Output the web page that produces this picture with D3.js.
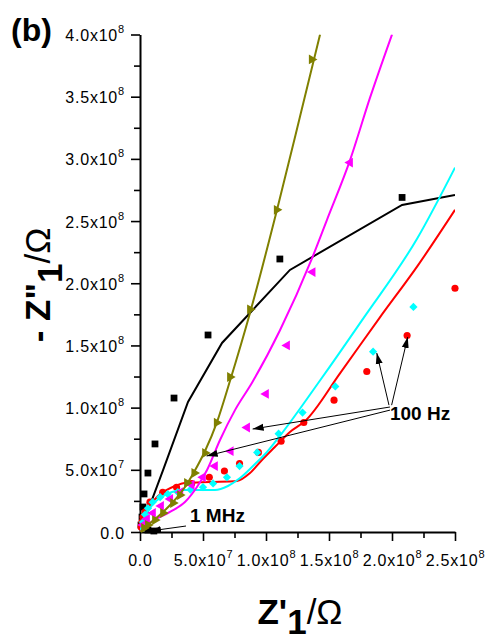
<!DOCTYPE html>
<html>
<head>
<meta charset="utf-8">
<script src="https://cdn.jsdelivr.net/npm/d3@7"></script>
<style>
body{margin:0;background:#fff}
svg{display:block;font-family:Arial,"Liberation Sans",sans-serif}
</style>
</head>
<body>
<svg id="chart" width="489" height="641"></svg>
<script>
// axis ticks and labels (mantissa, exponent)
const xTicks = [0, 5e7, 1e8, 1.5e8, 2e8, 2.5e8];
const xMinor = [2.5e7, 7.5e7, 1.25e8, 1.75e8, 2.25e8];
const xTickLabels = [['0.0',''],['5.0x10','7'],['1.0x10','8'],['1.5x10','8'],['2.0x10','8'],['2.5x10','8']];
const yTicks = [0, 5e7, 1e8, 1.5e8, 2e8, 2.5e8, 3e8, 3.5e8, 4e8];
const yMinor = [2.5e7, 7.5e7, 1.25e8, 1.75e8, 2.25e8, 2.75e8, 3.25e8, 3.75e8];
const yTickLabels = [['0.0',''],['5.0x10','7'],['1.0x10','8'],['1.5x10','8'],['2.0x10','8'],['2.5x10','8'],['3.0x10','8'],['3.5x10','8'],['4.0x10','8']];

// measured points [Z', -Z'']
const blackPts = [[2.08e8,2.69e8],[1.11e8,2.195e8],[5.4e7,1.584e8],[2.7e7,1.077e8],[1.19e7,7.08e7],[6.3e6,4.74e7],[3.2e6,3.06e7],[2.4e6,2.01e7],[1.6e6,1.2e7],[8e5,5.6e6],[6.3e6,1.6e6],[1.1e7,8e5]];
const redPts = [[2.50e8,1.96e8],[2.12e8,1.58e8],[1.80e8,1.29e8],[1.54e8,1.06e8],[1.30e8,8.8e7],[1.12e8,7.3e7],[9.4e7,6.4e7],[7.9e7,5.5e7],[6.7e7,4.9e7],[5.5e7,4.4e7],[4.1e7,3.9e7],[2.9e7,3.6e7],[1.8e7,3.2e7],[7.9e6,2.4e7],[4e6,1.6e7],[2.4e6,1.2e7],[1.6e6,8e6],[8e5,4e6]];
const cyanPts = [[2.17e8,1.81e8],[1.85e8,1.45e8],[1.55e8,1.17e8],[1.29e8,9.6e7],[1.10e8,7.9e7],[9.3e7,6.4e7],[7.9e7,5.3e7],[6.9e7,4.4e7],[5.8e7,3.9e7],[5.0e7,3.6e7],[4.0e7,3.4e7],[3.0e7,3.2e7],[2.2e7,3.05e7],[1.6e7,2.8e7],[1.0e7,2.4e7],[6.3e6,1.9e7],[4e6,1.4e7],[2.4e6,8e6]];
const magentaPts = [[1.667e8,2.97e8],[1.37e8,2.09e8],[1.167e8,1.50e8],[1.0e8,1.11e8],[8.5e7,8.4e7],[7.2e7,6.5e7],[5.95e7,5.3e7],[5.0e7,4.4e7],[4.1e7,3.8e7],[3.2e7,3.2e7],[2.4e7,2.65e7],[1.67e7,2.1e7],[1.03e7,1.53e7],[5.6e6,1.05e7],[2.4e6,5.6e6]];
const olivePts = [[1.363e8,3.80e8],[1.085e8,2.59e8],[8.73e7,1.79e8],[7.14e7,1.246e8],[6.09e7,8.79e7],[5.16e7,6.35e7],[4.31e7,4.74e7],[3.73e7,3.94e7],[3.17e7,2.97e7],[2.62e7,2.33e7],[1.83e7,1.53e7],[1.19e7,9.6e6],[6.3e6,5.6e6],[3.2e6,3.2e6]];

// fitted curves
const blackFit = [[0,0],[1.83e7,4.98e7],[3.81e7,1.045e8],[6.51e7,1.52e8],[1.19e8,2.107e8],[2.08e8,2.63e8],[2.5e8,2.71e8]];
const redFit = [[0,0],[2.4e6,8.0e6],[5.6e6,1.61e7],[9.5e6,2.33e7],[1.43e7,2.89e7],[1.98e7,3.30e7],[2.78e7,3.70e7],[3.57e7,3.94e7],[5.56e7,4.02e7],[7.7e7,4.1e7],[8.73e7,4.74e7],[9.68e7,5.79e7],[1.07e8,6.83e7],[1.19e8,8.04e7],[1.31e8,8.92e7],[1.59e8,1.28e8],[1.90e8,1.72e8],[2.21e8,2.15e8],[2.5e8,2.59e8]];
const cyanFit = [[0,0],[2.4e6,8e6],[4.8e6,1.45e7],[7.9e6,1.93e7],[1.27e7,2.49e7],[1.83e7,2.89e7],[2.54e7,3.22e7],[3.41e7,3.38e7],[4.76e7,3.38e7],[5.95e7,3.38e7],[6.98e7,3.7e7],[7.94e7,4.34e7],[8.97e7,5.31e7],[1.008e8,6.43e7],[1.11e8,7.72e7],[1.43e8,1.22e8],[1.76e8,1.70e8],[2.20e8,2.36e8],[2.5e8,2.93e8]];
const magentaFit = [[0,0],[7.9e6,7.2e6],[2.38e7,1.61e7],[3.57e7,2.41e7],[4.52e7,3.62e7],[5.32e7,4.98e7],[6.35e7,7.4e7],[7.54e7,9.8e7],[8.89e7,1.20e8],[1.11e8,1.62e8],[1.365e8,2.20e8],[1.484e8,2.51e8],[1.667e8,2.99e8],[1.825e8,3.49e8],[2.0e8,4.0e8]];
const oliveFit = [[0,0],[6.3e6,5.6e6],[1.19e7,1.05e7],[1.83e7,1.61e7],[2.62e7,2.41e7],[3.17e7,3.06e7],[3.73e7,3.86e7],[4.29e7,4.82e7],[5.16e7,6.51e7],[6.11e7,8.84e7],[7.14e7,1.214e8],[8.73e7,1.761e8],[1.087e8,2.589e8],[1.27e8,3.34e8],[1.429e8,4.0e8]];

// annotations: [fromX, fromY, toX, toY]
const arrows100Hz = [[1.997e8,1.02e8,2.125e8,1.568e8],[1.976e8,1.02e8,1.879e8,1.439e8],[1.984e8,1.005e8,8.94e7,8.28e7],[1.984e8,0.98e8,5.29e7,6.11e7]];
const arrows1MHz = [[3.65e7,4.8e6,7.9e6,8e5]];
const noteLabels = [['100 Hz',1.984e8,9.0e7],['1 MHz',3.97e7,8.0e6]];

const svg = d3.select('#chart');
const x = d3.scaleLinear().domain([0,2.5e8]).range([140,455]);
const y = d3.scaleLinear().domain([0,4e8]).range([532,34.5]);

svg.append('defs').append('clipPath').attr('id','plot')
  .append('rect').attr('x',140).attr('y',34.5).attr('width',315).attr('height',497.5);
svg.select('defs').append('marker').attr('id','head')
  .attr('markerUnits','userSpaceOnUse').attr('markerWidth',12).attr('markerHeight',8)
  .attr('refX',11).attr('refY',4).attr('orient','auto')
  .append('path').attr('d','M0,0.5L11,4L0,7.5Z').attr('fill','#000');

// axes
function styleAxis(g){
  g.select('.domain').attr('stroke','#000').attr('stroke-width',2);
  g.selectAll('.tick line').attr('stroke','#000').attr('stroke-width',1.6);
}
const gxMinor = svg.append('g').attr('transform','translate(0,532)')
  .call(d3.axisBottom(x).tickValues(xMinor).tickSize(6).tickSizeOuter(0).tickFormat(''));
gxMinor.select('.domain').remove();
gxMinor.selectAll('.tick line').attr('stroke','#000').attr('stroke-width',1.6);
const gyMinor = svg.append('g').attr('transform','translate(140,0)')
  .call(d3.axisLeft(y).tickValues(yMinor).tickSize(6).tickSizeOuter(0).tickFormat(''));
gyMinor.select('.domain').remove();
gyMinor.selectAll('.tick line').attr('stroke','#000').attr('stroke-width',1.6);

const gx = svg.append('g').attr('transform','translate(0,532)')
  .call(d3.axisBottom(x).tickValues(xTicks).tickSize(9).tickSizeOuter(0));
styleAxis(gx);
gx.selectAll('.tick text').each(function(d,i){
  const t = d3.select(this).text(null).attr('y',34).attr('dy',null)
    .attr('font-size',16).attr('letter-spacing','0.8px').attr('fill','#000');
  t.append('tspan').text(xTickLabels[i][0]);
  if (xTickLabels[i][1]) t.append('tspan').attr('dy',-8).attr('font-size',11).text(xTickLabels[i][1]);
});

const gy = svg.append('g').attr('transform','translate(140,0)')
  .call(d3.axisLeft(y).tickValues(yTicks).tickSize(9).tickSizeOuter(0));
styleAxis(gy);
gy.selectAll('.tick text').each(function(d,i){
  const t = d3.select(this).text(null).attr('x',-15).attr('dy',6)
    .attr('font-size',16).attr('letter-spacing','0.8px').attr('fill','#000');
  t.append('tspan').text(yTickLabels[i][0]);
  if (yTickLabels[i][1]) t.append('tspan').attr('dy',-8).attr('font-size',11).text(yTickLabels[i][1]);
});

// curves and symbols
const plot = svg.append('g');
const smooth = d3.line().x(d=>x(d[0])).y(d=>y(d[1])).curve(d3.curveMonotoneX);
const straight = d3.line().x(d=>x(d[0])).y(d=>y(d[1]));

const series = [
  {fit: blackFit, pts: blackPts, color:'#000000', sym:d3.symbolSquare, size:46, rot:0, line:straight},
  {fit: redFit, pts: redPts, color:'#ff0000', sym:d3.symbolCircle, size:40, rot:0, line:smooth},
  {fit: cyanFit, pts: cyanPts, color:'#00ffff', sym:d3.symbolSquare, size:34, rot:45, line:smooth},
  {fit: magentaFit, pts: magentaPts, color:'#ff00ff', sym:d3.symbolTriangle, size:42, rot:-90, line:smooth},
  {fit: oliveFit, pts: olivePts, color:'#808000', sym:d3.symbolTriangle, size:42, rot:90, line:smooth}
];

series.forEach(s=>{
  plot.append('path').attr('clip-path','url(#plot)')
    .attr('d', s.line(s.fit)).attr('fill','none')
    .attr('stroke', s.color).attr('stroke-width',2);
  plot.append('g').selectAll('path').data(s.pts).enter().append('path')
    .attr('d', d3.symbol().type(s.sym).size(s.size))
    .attr('transform', d=>`translate(${x(d[0])},${y(d[1])}) rotate(${s.rot})`)
    .attr('fill', s.color);
});

// annotations
const notes = svg.append('g');
notes.selectAll('line').data(arrows100Hz.concat(arrows1MHz)).enter().append('line')
  .attr('x1',d=>x(d[0])).attr('y1',d=>y(d[1]))
  .attr('x2',d=>x(d[2])).attr('y2',d=>y(d[3]))
  .attr('stroke','#000').attr('stroke-width',1)
  .attr('marker-end','url(#head)');
notes.selectAll('text').data(noteLabels).enter().append('text')
  .attr('x',d=>x(d[1])).attr('y',d=>y(d[2]))
  .attr('font-size',19).attr('font-weight','bold').attr('fill','#000')
  .text(d=>d[0]);

// titles
svg.append('text').attr('x',11).attr('y',41)
  .attr('font-size',32).attr('font-weight','bold').text('(b)');

const xt = svg.append('text').attr('x',300).attr('y',624)
  .attr('text-anchor','middle').attr('font-size',35);
xt.append('tspan').attr('font-weight','bold').text("Z'");
xt.append('tspan').attr('font-weight','bold').attr('dy',10).text('1');
xt.append('tspan').attr('dy',-10).text('/Ω');

const yt = svg.append('text').attr('transform','translate(50,285) rotate(-90)')
  .attr('text-anchor','middle').attr('font-size',35);
yt.append('tspan').attr('font-weight','bold').text('- Z"');
yt.append('tspan').attr('font-weight','bold').attr('dy',12).text('1');
yt.append('tspan').attr('dy',-12).text('/Ω');
</script>
</body>
</html>
